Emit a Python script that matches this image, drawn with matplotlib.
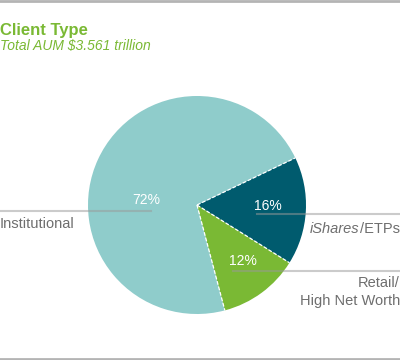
import numpy as np
import matplotlib
matplotlib.use("Agg")
import matplotlib.pyplot as plt

plt.rcParams.update({
    "font.family": ["Liberation Sans", "DejaVu Sans"],
})

categories = ["iShares/ETPs", "Retail/\nHigh Net Worth", "Institutional"]
shares     = [16, 12, 72]
pct_labels = ["16%", "12%", "72%"]

light_teal = "#8FCCCB"
dark_teal  = "#005B6E"
green      = "#7AB934"
grey_line  = "#B4B4B4"
grey_text  = "#6E6E6E"

fig = plt.figure(figsize=(4.0, 3.6), dpi=100)
ax = fig.add_axes([0, 0, 1, 1])
ax.set_xlim(0, 400)
ax.set_ylim(360, 0)

cx, cy, r = 197, 205, 109
start = 25.6  # visual angle of first wedge edge (y axis is flipped, so negate)

ax.pie(shares, colors=[dark_teal, green, light_teal], startangle=-start,
       counterclock=True, center=(cx, cy), radius=r,
       wedgeprops=dict(linewidth=0))
ax.set_xlim(0, 400)
ax.set_ylim(360, 0)
ax.set_aspect("auto")
ax.axis("off")

# dashed white separators along wedge edges
for s in [0] + list(np.cumsum(shares)[:-1]):
    a = np.deg2rad(-start + s / 100 * 360)
    ax.plot([cx, cx + r * np.cos(a)], [cy, cy + r * np.sin(a)],
            color="white", lw=0.9, ls=(0, (3, 1.5)), zorder=3)

# frame lines
ax.axhline(0.5, color=grey_line, lw=2)
ax.axhline(359, color=grey_line, lw=2)

# title
ax.text(0, 30, "Client Type", color=green, fontsize=12, fontweight="bold", va="center")
ax.text(0, 46, "Total AUM $3.561 trillion", color=green, fontsize=10, style="italic", va="center")

# leader lines (semi-transparent grey)
ax.plot([0, 151], [211, 211], color="#999999", alpha=0.5, lw=1.5, zorder=4)
ax.plot([257, 400], [214, 214], color="#999999", alpha=0.5, lw=1.5, zorder=4)
ax.plot([233, 400], [271, 271], color="#999999", alpha=0.5, lw=1.5, zorder=4)

# percent labels
ax.text(146, 200, pct_labels[2], color="white", fontsize=10, ha="center", va="center", zorder=5)
ax.text(268, 206, pct_labels[0], color="white", fontsize=10, ha="center", va="center", zorder=5)
ax.text(243, 261, pct_labels[1], color="white", fontsize=10, ha="center", va="center", zorder=5)

# category labels
ax.text(0, 224, categories[2], color=grey_text, fontsize=10.5, ha="left", va="center")
etps = ax.text(400, 229, "/ETPs", color=grey_text, fontsize=10.5, ha="right", va="center")
fig.canvas.draw()
bb = etps.get_window_extent()
x_left = ax.transData.inverted().transform((bb.x0, bb.y0))[0]
ax.text(x_left - 1, 229, "iShares", color=grey_text, fontsize=10.5, ha="right", va="center",
        style="italic")
ax.text(400, 292, categories[1], color=grey_text, fontsize=10.5, ha="right", va="center",
        linespacing=1.3, multialignment="right")

fig.savefig("out.png", dpi=100)
